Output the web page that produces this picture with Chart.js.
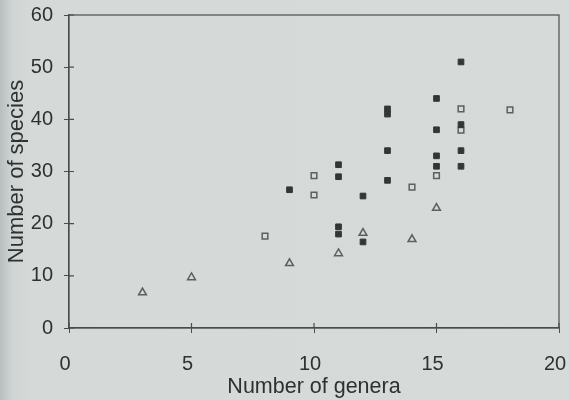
<!DOCTYPE html>
<html>
<head>
<meta charset="utf-8">
<script src="https://cdn.jsdelivr.net/npm/chart.js@4"></script>
<style>
  html, body { margin:0; padding:0; }
  body { width:569px; height:400px; background:linear-gradient(to right,#b9bfbf 0px,#cfd4d3 12px,#d5dad9 30px,#d6dbda 100%); }
  #wrap { position:relative; width:569px; height:400px; }
</style>
</head>
<body>
<div id="wrap"><canvas id="chart"></canvas></div>
<script>
'use strict';

// ── Data ──────────────────────────────────────────────────────────────────────
const filledX = [16, 15, 13, 13, 15, 16, 13, 15, 16, 16, 15, 11, 11,  9, 13, 12, 11, 11, 12];
const filledY = [51, 44, 42, 41, 38, 39, 34, 33, 34, 31, 31, 31.3, 29, 26.5, 28.3, 25.3, 19.4, 18, 16.5];

const openX = [18, 16, 16, 15, 10, 10, 14, 8];
const openY = [41.8, 42, 37.9, 29.2, 29.2, 25.5, 27, 17.6];

const triX = [3, 5, 9, 11, 12, 14, 15];
const triY = [6.8, 9.7, 12.4, 14.3, 18.2, 17, 23];

const xTicks = [0, 5, 10, 15, 20];
const yTicks = [0, 10, 20, 30, 40, 50, 60];

const pts = (xs, ys) => xs.map((x, i) => ({ x, y: ys[i] }));
const FONT = 'Liberation Sans, Arial, sans-serif';

// ── Frame + inward tick stubs ─────────────────────────────────────────────────
const framePlugin = {
  id: 'frame',
  afterDraw(chart) {
    const { ctx, chartArea: a, scales } = chart;
    ctx.save();
    ctx.strokeStyle = '#4a4d4d';
    ctx.lineWidth = 1.2;
    ctx.strokeRect(a.left, a.top, a.right - a.left, a.bottom - a.top);
    ctx.beginPath();
    xTicks.forEach(v => {
      const px = scales.x.getPixelForValue(v);
      ctx.moveTo(px, a.bottom); ctx.lineTo(px, a.bottom - 5);
    });
    yTicks.forEach(v => {
      const py = scales.y.getPixelForValue(v);
      ctx.moveTo(a.left, py); ctx.lineTo(a.left + 5, py);
    });
    ctx.stroke();
    ctx.restore();
  }
};

new Chart(document.getElementById('chart'), {
  type: 'scatter',
  data: {
    datasets: [
      { label: 'filled', data: pts(filledX, filledY), pointStyle: 'rect', pointRadius: 4, borderWidth: 1, borderColor: '#333636', backgroundColor: '#333636' },
      { label: 'open', data: pts(openX, openY), pointStyle: 'rect', pointRadius: 4, borderWidth: 1.5, borderColor: '#5c5f5f', backgroundColor: 'rgba(0,0,0,0)' },
      { label: 'triangle', data: pts(triX, triY), pointStyle: 'triangle', pointRadius: 4.5, borderWidth: 1.5, borderColor: '#5c5f5f', backgroundColor: 'rgba(0,0,0,0)' }
    ]
  },
  options: {
    responsive: true, maintainAspectRatio: false, animation: false,
    layout: { padding: { top: 15, right: 10, left: 0, bottom: 0 } },
    plugins: { legend: { display: false }, tooltip: { enabled: false } },
    scales: {
      x: {
        type: 'linear', min: 0, max: 20,
        afterBuildTicks: s => { s.ticks = xTicks.map(v => ({ value: v })); },
        afterFit: s => { s.height = 72; s.paddingLeft = 0; s.paddingRight = 0; },
        ticks: { font: { family: FONT, size: 20 }, color: '#2e3131', padding: 19, maxRotation: 0, labelOffset: -4 },
        grid: { drawOnChartArea: false, tickLength: 5, color: '#4a4d4d' },
        border: { color: '#4a4d4d', width: 1.2 },
        title: { display: true, text: 'Number of genera', font: { family: FONT, size: 21.5 }, color: '#2e3131', padding: { top: -6, bottom: 0 } }
      },
      y: {
        type: 'linear', min: 0, max: 60,
        afterBuildTicks: s => { s.ticks = yTicks.map(v => ({ value: v })); },
        afterFit: s => { s.width = 69; s.paddingTop = 0; s.paddingBottom = 0; },
        ticks: { font: { family: FONT, size: 20 }, color: '#2e3131', padding: 11 },
        grid: { drawOnChartArea: false, tickLength: 5, color: '#4a4d4d' },
        border: { color: '#4a4d4d', width: 1.2 },
        title: { display: true, text: 'Number of species', font: { family: FONT, size: 22 }, color: '#2e3131', padding: { top: 4, bottom: 0 } }
      }
    }
  },
  plugins: [framePlugin]
});
</script>
</body>
</html>
